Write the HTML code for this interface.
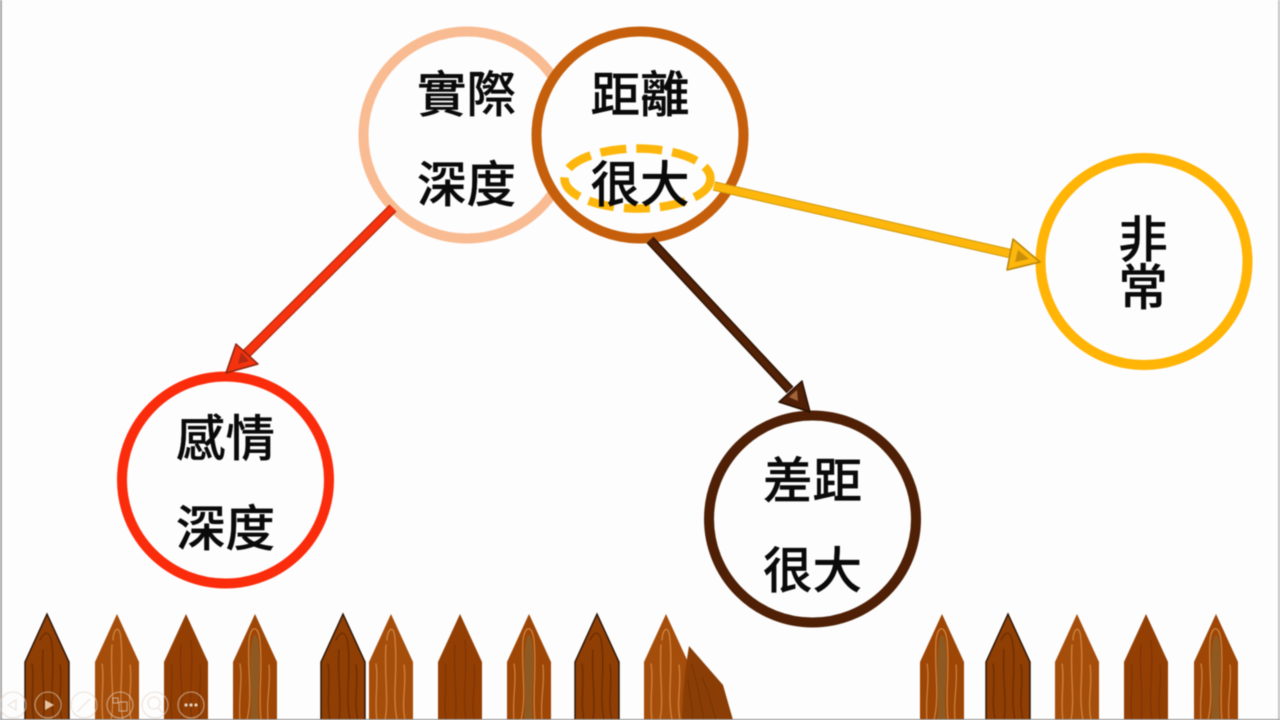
<!DOCTYPE html>
<html lang="zh-Hant"><head><meta charset="utf-8"><title>實際距離</title>
<style>
html,body{margin:0;padding:0;width:1280px;height:720px;overflow:hidden;background:#fdfdfd}
svg{display:block;filter:blur(.45px)}
text{font-family:"Liberation Sans","Noto Sans CJK TC",sans-serif;font-size:49.5px;font-weight:500;fill:#0a0a0a;text-anchor:middle;stroke:#0a0a0a;stroke-width:.3px}
.g{fill:none;stroke-linecap:round}
</style></head><body>
<svg width="1280" height="720" viewBox="0 0 1280 720" xmlns="http://www.w3.org/2000/svg">
<defs>
<g id="dark">
<path d="M-22 720 V662 L0 614 L22 662 V720 Z" fill="#8f3f04" stroke="#2a1204" stroke-width="1.4"/>
<g class="g" stroke="#6f2e02" stroke-width="1.4">
<path d="M-15 664 C-12 680 -17 700 -13 720"/><path d="M-7 640 C-2 630 3 630 5 645 C8 670 2 695 7 720"/><path d="M-4 650 C-6 675 -1 700 -4 720"/><path d="M13 665 C16 685 10 700 15 720"/>
</g></g>
<g id="light">
<path d="M-22 720 V662 L0 614 L22 662 V720 Z" fill="#a54d0a"/>
<g class="g" stroke="#cf8440" stroke-width="1.3">
<path d="M-15 664 C-12 680 -17 700 -14 720"/><path d="M-4 640 C-4 630 3 622 4 640 C7 670 1 695 6 720"/><path d="M-5 645 C-7 675 -2 700 -6 720"/><path d="M13 665 C16 685 10 700 14 720"/>
</g></g>
<g id="plain">
<path d="M-22 720 V662 L0 614 L22 662 V720 Z" fill="#933f04"/>
<g class="g" stroke="#7e3403" stroke-width="1.2">
<path d="M-15 664 C-12 680 -17 700 -14 720"/><path d="M-5 645 C-7 675 -2 700 -5 720"/><path d="M5 640 C8 670 2 695 6 720"/><path d="M14 665 C16 685 11 700 14 720"/>
</g></g>
<g id="stripe">
<path d="M-22 720 V662 L0 614 L22 662 V720 Z" fill="#9d4606"/>
<path d="M-4 650 C-3 630 3 630 4 650 C6 675 1 695 4 720 H-5 C-2 695 -6 675 -4 650Z" fill="#8f5a22"/>
<g class="g" stroke="#cf8440" stroke-width="1.2">
<path d="M-6 640 C-4 625 3 625 5 640 C8 670 3 695 6 720"/><path d="M-6 640 C-8 670 -2 695 -8 720"/><path d="M-15 664 C-12 680 -17 700 -15 720"/><path d="M14 665 C16 685 11 700 13 720"/>
</g></g>
</defs>

<rect width="1280" height="720" fill="#fdfdfd"/>
<rect x="0" y="0" width="2" height="720" fill="#a8a8a8"/>
<rect x="1278" y="0" width="2" height="720" fill="#c4c4c4"/>

<use href="#dark" x="47"/><use href="#light" x="117"/><use href="#plain" x="186"/><use href="#stripe" x="255"/>
<use href="#dark" x="343"/><use href="#light" x="391"/><use href="#plain" x="460"/><use href="#stripe" x="529"/>
<use href="#dark" x="597"/><use href="#light" x="666"/>
<path d="M689 646 L723 685 L733 720 H682 C682 700 685 670 689 646Z" fill="#8a3e06"/>
<g class="g" stroke="#763404" stroke-width="1.1"><path d="M692 665 C698 685 700 700 704 720"/><path d="M702 678 C708 690 712 705 716 720"/><path d="M688 680 C690 695 692 705 693 720"/></g>
<use href="#stripe" x="942"/><use href="#dark" x="1008"/><use href="#light" x="1077"/><use href="#plain" x="1146"/><use href="#stripe" x="1216"/>
<rect x="0" y="719" width="1280" height="1" fill="#8c8c8c"/>

<g fill="none" stroke="#e4d2c4" stroke-opacity=".65" stroke-width="1.1">
<circle cx="13" cy="705" r="13"/><circle cx="48" cy="705" r="13"/><circle cx="84" cy="705" r="13"/><circle cx="120" cy="705" r="13"/><circle cx="155" cy="705" r="13"/><circle cx="191" cy="705" r="13"/>
<path d="M16 700 L8 705 L16 710Z"/><path d="M77 712 L90 699"/><rect x="119" y="702" width="8" height="9"/><rect x="113" y="698" width="5" height="5"/><circle cx="154" cy="703" r="6"/><path d="M158 708 L163 713"/>
</g>
<path d="M45 700 L54 705 L45 710Z" fill="#e7c3a2"/>
<g fill="#e7d3c2"><circle cx="186" cy="705" r="1.6"/><circle cx="191" cy="705" r="1.6"/><circle cx="196" cy="705" r="1.6"/></g>

<circle cx="467" cy="135" r="103.5" fill="#fdfdfd" stroke="#f9bb92" stroke-width="10"/>
<circle cx="640" cy="135" r="103.5" fill="#fdfdfd" stroke="#c55f0c" stroke-width="10"/>
<circle cx="1144" cy="261.5" r="103.5" fill="#fdfdfd" stroke="#ffb406" stroke-width="10"/>
<circle cx="225.5" cy="480" r="103.5" fill="#fdfdfd" stroke="#fb2c0c" stroke-width="10"/>
<circle cx="812.5" cy="519" r="103.5" fill="#fdfdfd" stroke="#4f2006" stroke-width="10"/>

<ellipse cx="637.5" cy="178.5" rx="73" ry="30" fill="none" stroke="#fdb60c" stroke-width="8.5" stroke-dasharray="26 10"/>

<path d="M393 208 L240 360" stroke="#b82a0c" stroke-width="10" fill="none"/>
<path d="M393 208 L240 360" stroke="#f5330f" stroke-width="7.5" fill="none"/>
<path d="M226 373 L236 344 L258 364Z" fill="#f5330f" stroke="#8f2410" stroke-width="1.5" stroke-linejoin="round"/>
<path d="M238 364 L241 352 L249 361Z" fill="#b62a12"/>

<path d="M714 186 L1012 254" stroke="#d09a0a" stroke-width="9.5" fill="none"/>
<path d="M714 186 L1012 254" stroke="#fdb60c" stroke-width="7.5" fill="none"/>
<path d="M1040 262 L1013 239 L1007 270Z" fill="#fdb60c" stroke="#b98508" stroke-width="1.5" stroke-linejoin="round"/>
<path d="M1029 259 L1018 250 L1015 262Z" fill="#c98f0a"/>

<path d="M650 240 L790 390" stroke="#2f1303" stroke-width="9.5" fill="none"/>
<path d="M650 240 L790 390" stroke="#522106" stroke-width="6.5" fill="none"/>
<path d="M810 412 L802 381 L779 402Z" fill="#4f2006" stroke="#2a1003" stroke-width="1.5" stroke-linejoin="round"/>
<path d="M798 401 L797 390 L789 397Z" fill="#a0643a"/>

<text x="466.5" y="112">實際</text>
<text x="466.5" y="202">深度</text>
<text x="640" y="112">距離</text>
<text x="640" y="202">很大</text>
<text x="1143" y="257">非</text>
<text x="1143" y="305">常</text>
<text x="225.5" y="456">感情</text>
<text x="225.5" y="546">深度</text>
<text x="812.5" y="498">差距</text>
<text x="812.5" y="588">很大</text>
</svg>
</body></html>
